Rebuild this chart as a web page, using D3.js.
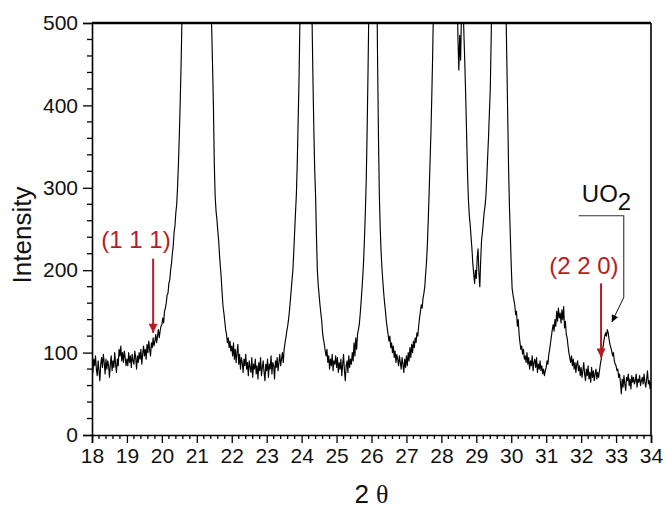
<!DOCTYPE html>
<html>
<head>
<meta charset="utf-8">
<script src="https://cdn.jsdelivr.net/npm/d3@7"></script>
<style>
  html, body { margin: 0; padding: 0; background: #fff; }
  svg { display: block; font-family: Arial, "Liberation Sans", sans-serif; }
</style>
</head>
<body>
<svg id="chart" width="665" height="510"></svg>
<script>
// Diffraction scan: 2θ sampled from 18° to 34° every 0.025°
const angleStart = 18;
const angleStep = 0.025;

// Measured intensity (counts), one value per 0.025° step, one row per degree
const intensity = [
  // 18
  88, 76, 92, 84, 96, 80, 72, 90, 78, 66, 86, 94, 82, 98, 88, 74, 92, 80, 90, 84,
  70, 86, 96, 78, 90, 82, 100, 86, 76, 92, 84, 104, 96, 108, 90, 100, 88, 102, 94, 84,
  // 19
  92, 84, 100, 88, 96, 82, 98, 90, 86, 102, 94, 80, 96, 88, 100, 92, 104, 86, 98, 108,
  96, 104, 92, 110, 100, 114, 104, 96, 112, 106, 118, 108, 114, 122, 112, 120, 128, 118, 126, 132,
  // 20
  134, 142, 136, 150, 154, 160, 170, 172, 184, 188, 200, 208, 220, 230, 246, 254, 270, 280, 302, 330,
  365, 405, 450, 505, 570, 650, 740, 840, 960, 1100, 1280, 1480, 1700, 1900, 2100, 2270, 2400, 2500, 2560, 2600,
  // 21
  2610, 2590, 2520, 2400, 2250, 2060, 1850, 1620, 1400, 1190, 1000, 860, 750, 660, 590, 545, 515, 495, 450, 400,
  330, 290, 272, 262, 248, 236, 218, 204, 190, 172, 156, 148, 138, 128, 122, 112, 118, 106, 114, 102,
  // 22
  108, 96, 112, 92, 104, 88, 100, 110, 86, 98, 80, 94, 88, 76, 92, 84, 98, 80, 88, 72,
  90, 82, 76, 94, 70, 86, 80, 92, 74, 84, 68, 88, 78, 94, 72, 82, 90, 76, 66, 86,
  // 23
  78, 92, 70, 86, 80, 96, 74, 88, 84, 68, 90, 82, 94, 78, 88, 98, 84, 92, 100, 88,
  104, 112, 118, 126, 132, 140, 150, 162, 175, 188, 200, 222, 246, 270, 292, 330, 380, 430, 500, 640,
  // 24
  820, 1050, 1350, 1700, 1950, 2000, 1850, 1550, 1250, 980, 780, 620, 500, 430, 370, 320, 290, 240, 200, 182,
  170, 158, 148, 138, 124, 116, 110, 102, 96, 104, 88, 96, 80, 92, 84, 98, 78, 90, 86, 96,
  // 25
  82, 94, 76, 88, 80, 92, 72, 86, 98, 78, 66, 84, 90, 76, 96, 82, 92, 86, 100, 90,
  112, 96, 118, 104, 122, 128, 134, 146, 160, 176, 192, 212, 240, 272, 310, 370, 440, 520, 700, 900,
  // 26
  1150, 1300, 1320, 1150, 900, 700, 560, 450, 360, 290, 250, 222, 202, 186, 172, 160, 150, 138, 130, 122,
  114, 120, 106, 112, 100, 108, 94, 102, 88, 98, 92, 84, 96, 88, 80, 94, 86, 76, 92, 82,
  // 27
  96, 84, 100, 90, 106, 94, 110, 100, 114, 106, 118, 112, 124, 120, 132, 142, 150, 158, 154, 166,
  172, 180, 196, 210, 232, 262, 295, 330, 365, 410, 460, 520, 620, 780, 960, 1150, 1350, 1550, 1720, 1850,
  // 28
  1940, 1990, 2000, 1980, 1930, 1860, 1780, 1680, 1560, 1430, 1300, 1170, 1050, 940, 840, 750, 670, 600, 540, 480,
  443, 485, 455, 510, 540, 515, 480, 445, 405, 360, 315, 285, 266, 255, 240, 226, 208, 196, 184, 200,
  // 29
  190, 215, 226, 196, 180, 212, 236, 246, 258, 270, 278, 290, 312, 338, 362, 392, 420, 480, 560, 700,
  900, 1150, 1400, 1600, 1720, 1750, 1700, 1560, 1350, 1130, 930, 770, 650, 570, 515, 450, 385, 320, 275, 240,
  // 30
  205, 178, 170, 164, 158, 146, 150, 132, 140, 122, 112, 104, 108, 98, 104, 92, 96, 88, 100, 86,
  94, 80, 90, 84, 96, 78, 88, 92, 82, 94, 76, 86, 80, 90, 78, 84, 74, 80, 72, 78,
  // 31
  82, 90, 86, 98, 104, 112, 120, 128, 134, 126, 140, 132, 150, 138, 154, 142, 148, 136, 152, 140,
  156, 130, 138, 122, 118, 108, 100, 94, 88, 96, 84, 92, 80, 88, 76, 86, 90, 78, 84, 72,
  // 32
  82, 70, 78, 88, 74, 66, 80, 72, 84, 68, 76, 64, 82, 70, 78, 66, 74, 80, 68, 76,
  70, 78, 86, 92, 98, 106, 114, 120, 124, 120, 128, 124, 116, 110, 106, 102, 96, 100, 90, 86,
  // 33 – 34
  84, 78, 80, 70, 74, 64, 50, 68, 58, 72, 62, 54, 70, 66, 74, 60, 68, 56, 72, 64,
  70, 62, 66, 74, 58, 68, 64, 72, 60, 66, 70, 62, 74, 64, 58, 68, 78, 62, 66, 56, 64
];

// Axis ticks
const xTickValues = [18, 19, 20, 21, 22, 23, 24, 25, 26, 27, 28, 29, 30, 31, 32, 33, 34];
const yTickValues = [0, 100, 200, 300, 400, 500];

// Reflection markers (red arrows) and the UO2 phase callout
const reflections = [
  { label: "(1 1 1)", angle: 19.75, tail: 214, tip: 124, labelAngle: 19.26, labelLevel: 227 },
  { label: "(2 2 0)", angle: 32.57, tail: 184, tip: 94, labelAngle: 32.08, labelLevel: 195 }
];
const phaseLabel = { main: "UO", sub: "2", angle: 32.02, level: 283 };
const phaseLeader = [[31.93, 266], [33.22, 266], [33.22, 167], [32.88, 137]];

const svg = d3.select("#chart");
const margin = { left: 92, right: 14, top: 23, bottom: 75 };
const W = +svg.attr("width"), H = +svg.attr("height");

const x = d3.scaleLinear().domain([18, 34]).range([margin.left, W - margin.right]);
const y = d3.scaleLinear().domain([0, 500]).range([H - margin.bottom, margin.top]);

const points = intensity.map((v, i) => [angleStart + i * angleStep, v]);

// Clip the pattern to the plotting frame (strong peaks run off the top)
const defs = svg.append("defs");
defs.append("clipPath").attr("id", "plotClip")
  .append("rect")
  .attr("x", x(18)).attr("y", y(500))
  .attr("width", x(34) - x(18)).attr("height", y(0) - y(500));

svg.append("path")
  .datum(points)
  .attr("clip-path", "url(#plotClip)")
  .attr("fill", "none")
  .attr("stroke", "#000")
  .attr("stroke-width", 1.15)
  .attr("stroke-linejoin", "round")
  .attr("d", d3.line().x(d => x(d[0])).y(d => y(d[1])));

// Minor ticks
const xMinor = d3.range(18, 34.0001, 0.2).filter(v => Math.abs(v - Math.round(v)) > 1e-6);
const yMinor = d3.range(0, 500.001, 20).filter(v => v % 100 !== 0);

const xAxis = svg.append("g")
  .attr("transform", `translate(0,${y(0)})`)
  .call(d3.axisBottom(x).tickValues(xTickValues).tickFormat(d3.format("d")).tickSize(8).tickPadding(5));
xAxis.append("g").selectAll("line").data(xMinor).join("line")
  .attr("x1", d => x(d)).attr("x2", d => x(d)).attr("y1", 0).attr("y2", 4)
  .attr("stroke", "#000").attr("stroke-width", 1.3);

const yAxis = svg.append("g")
  .attr("transform", `translate(${x(18)},0)`)
  .call(d3.axisLeft(y).tickValues(yTickValues).tickFormat(d3.format("d")).tickSize(9).tickPadding(5));
yAxis.append("g").selectAll("line").data(yMinor).join("line")
  .attr("y1", d => y(d)).attr("y2", d => y(d)).attr("x1", 0).attr("x2", -5)
  .attr("stroke", "#000").attr("stroke-width", 1.3);

[xAxis, yAxis].forEach(g => {
  g.select(".domain").attr("stroke", "#000").attr("stroke-width", 1.6);
  g.selectAll(".tick line").attr("stroke", "#000").attr("stroke-width", 1.3);
  g.selectAll(".tick text").attr("fill", "#111").attr("font-size", 21)
    .attr("font-family", "Arial, 'Liberation Sans', sans-serif");
});

// Closing frame: top and right edges
svg.append("line")
  .attr("x1", x(18)).attr("x2", x(34)).attr("y1", y(500)).attr("y2", y(500))
  .attr("stroke", "#000").attr("stroke-width", 2.4);
svg.append("line")
  .attr("x1", x(34)).attr("x2", x(34)).attr("y1", y(500)).attr("y2", y(0))
  .attr("stroke", "#000").attr("stroke-width", 1.6);

// Axis titles
svg.append("text")
  .attr("transform", `translate(31,${(y(0) + y(500)) / 2 + 6}) rotate(-90)`)
  .attr("text-anchor", "middle")
  .attr("font-size", 26)
  .attr("fill", "#111")
  .text("Intensity");

const xTitle = svg.append("text")
  .attr("x", (x(18) + x(34)) / 2)
  .attr("y", 503)
  .attr("text-anchor", "middle")
  .attr("font-size", 26)
  .attr("fill", "#111");
xTitle.append("tspan").text("2 ");
xTitle.append("tspan").attr("font-family", "'Liberation Serif', 'DejaVu Serif', serif").text("θ");

// Reflection arrows
const red = "#b71c24";
defs.append("marker").attr("id", "redHead")
  .attr("viewBox", "0 0 10 10").attr("refX", 10).attr("refY", 5)
  .attr("markerUnits", "userSpaceOnUse").attr("markerWidth", 14).attr("markerHeight", 9)
  .attr("orient", "auto")
  .append("path").attr("d", "M0,0 L10,5 L0,10 Z").attr("fill", red);
defs.append("marker").attr("id", "blackHead")
  .attr("viewBox", "0 0 10 10").attr("refX", 10).attr("refY", 5)
  .attr("markerUnits", "userSpaceOnUse").attr("markerWidth", 12).attr("markerHeight", 7)
  .attr("orient", "auto")
  .append("path").attr("d", "M0,0 L10,5 L0,10 Z").attr("fill", "#000");

const refl = svg.append("g").selectAll("g").data(reflections).join("g");
refl.append("line")
  .attr("x1", d => x(d.angle)).attr("x2", d => x(d.angle))
  .attr("y1", d => y(d.tail)).attr("y2", d => y(d.tip))
  .attr("stroke", red).attr("stroke-width", 2)
  .attr("marker-end", "url(#redHead)");
refl.append("text")
  .attr("x", d => x(d.labelAngle)).attr("y", d => y(d.labelLevel))
  .attr("text-anchor", "middle")
  .attr("font-size", 24)
  .attr("fill", red)
  .text(d => d.label);

// UO2 callout
svg.append("path")
  .datum(phaseLeader)
  .attr("fill", "none")
  .attr("stroke", "#333")
  .attr("stroke-width", 1.1)
  .attr("marker-end", "url(#blackHead)")
  .attr("d", d3.line().x(d => x(d[0])).y(d => y(d[1])));

const uo = svg.append("text")
  .attr("x", x(phaseLabel.angle)).attr("y", y(phaseLabel.level))
  .attr("font-size", 24).attr("fill", "#111");
uo.append("tspan").text(phaseLabel.main);
uo.append("tspan").attr("dy", 8).text(phaseLabel.sub);
</script>
</body>
</html>
